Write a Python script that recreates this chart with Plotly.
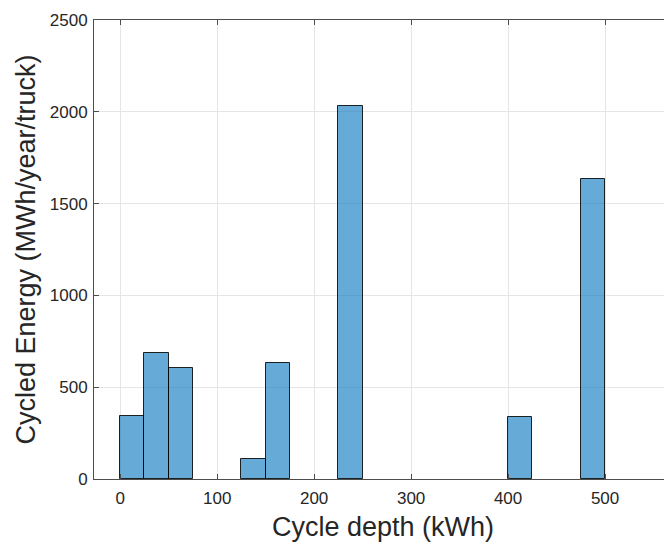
import plotly.graph_objects as go

# Histogram data (bin width 25 kWh)
bin_centers = [12.5, 37.5, 62.5, 137.5, 162.5, 237.5, 412.5, 487.5]
energy = [341, 689, 605, 108, 633, 2033, 340, 1636]
bin_width = 25
x_ticks = [0, 100, 200, 300, 400, 500]
y_ticks = [0, 500, 1000, 1500, 2000, 2500]

fig = go.Figure()
fig.add_trace(go.Bar(
    x=bin_centers, y=energy, width=[bin_width] * len(bin_centers),
    marker=dict(color="rgba(0,114,189,0.6)", line=dict(color="rgba(0,0,0,0.85)", width=1)),
    showlegend=False,
))

axis_col = "#4d4d4d"
fig.update_layout(
    width=664, height=534,
    margin=dict(l=86, r=0, t=12, b=63),
    paper_bgcolor="white", plot_bgcolor="white",
    font=dict(family="Liberation Sans, Arial, sans-serif", color="#262626"),
    bargap=0,
    xaxis=dict(
        range=[-27, 569], tickvals=x_ticks, ticks="inside", ticklen=5, tickcolor=axis_col,
        showline=True, linecolor=axis_col, linewidth=1, mirror="ticks",
        showgrid=True, gridcolor="#e5e5e5", gridwidth=1, zeroline=False,
        tickfont=dict(size=17, color="#262626"), ticklabelstandoff=4, automargin=False,
        title=dict(text="Cycle depth (kWh)", font=dict(size=27, color="#262626"), standoff=16),
    ),
    yaxis=dict(
        range=[0, 2500], tickvals=y_ticks, ticks="inside", ticklen=5, tickcolor=axis_col,
        showline=True, linecolor=axis_col, linewidth=1, mirror=False,
        showgrid=True, gridcolor="#e5e5e5", gridwidth=1, zeroline=False,
        tickfont=dict(size=17, color="#262626"), ticklabelstandoff=2, automargin=False,
        title=dict(text="Cycled Energy (MWh/year/truck)", font=dict(size=27, color="#262626"), standoff=6),
    ),
)

fig.write_html("out.html")
